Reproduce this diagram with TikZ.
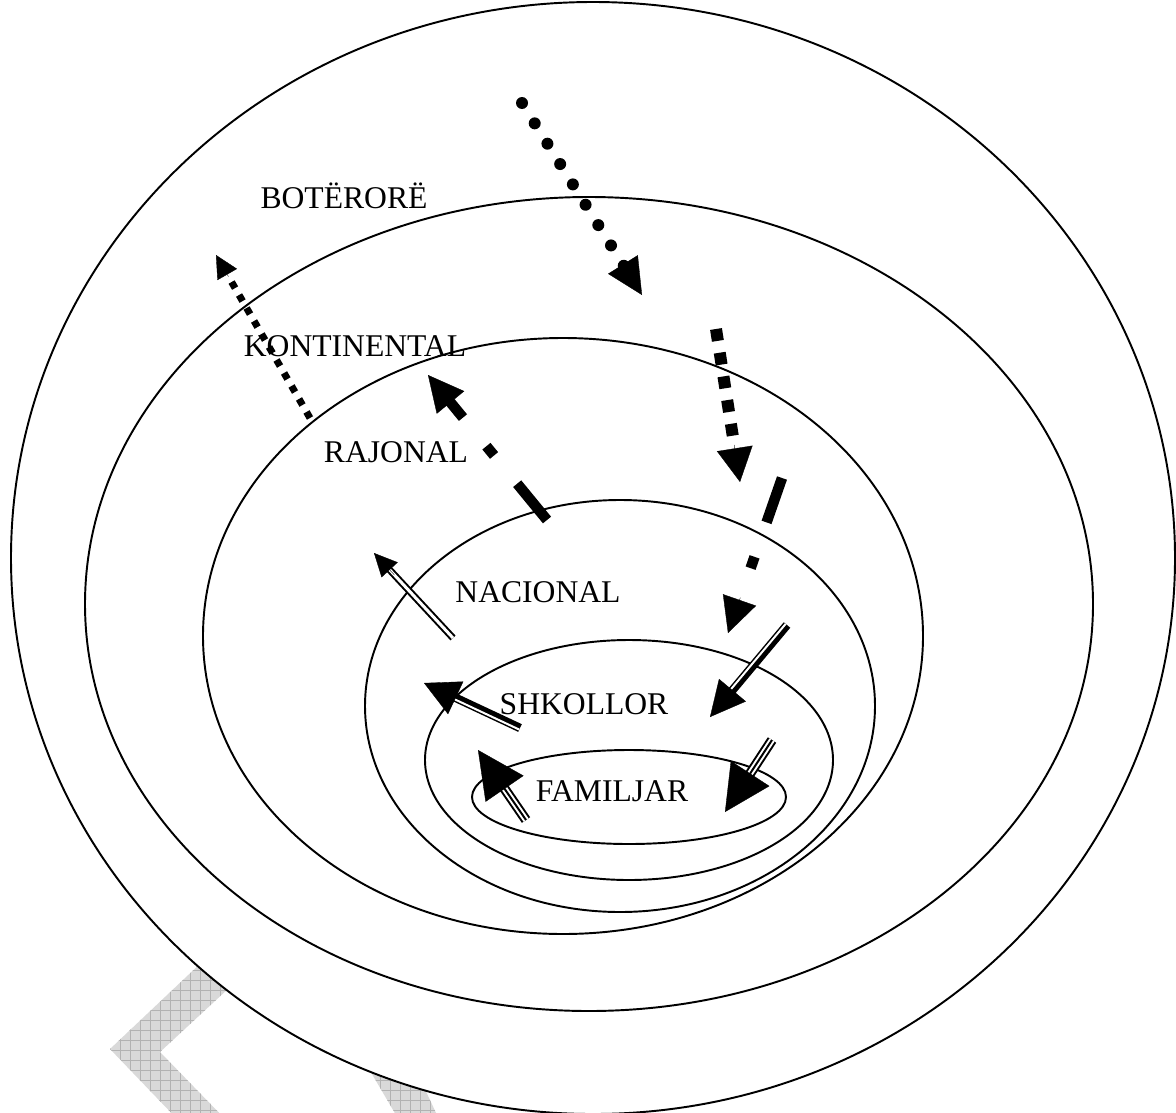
\documentclass[tikz,border=0pt]{standalone}
\usepackage{fontspec}
\setmainfont{Liberation Serif}
\usetikzlibrary{arrows.meta,calc}

\begin{document}
\begin{tikzpicture}[x=0.02cm, y=-0.02cm,
		ring/.style={draw=black, line width=1.1pt},
		lbl/.style={font=\fontsize{18}{20}\selectfont, inner sep=0pt, anchor=base},
		tiphead/.style 2 args={-{Triangle[length=#1,width=#2]}, line width=0.2pt},
		rounddots/.style={line width=0.24cm, line cap=round, dash pattern=on 0cm off 0.48cm},
		smallsquares/.style={line width=0.14cm, dash pattern=on 0.14cm off 0.16cm},
		bigsquares/.style={line width=0.24cm, dash pattern=on 0.24cm off 0.24cm},
		dashdot/.style={line width=0.21cm, dash pattern=on 0.94cm off 0.73cm on 0.24cm off 0.74cm},
		thinpair/.style={double=white, double distance=0.06cm, line width=0.04cm},
		thickbar/.style={line width=0.17cm},
		gapline/.style={white, line width=0.04cm},
		threeline/.style={line width=0.04cm, preaction={draw, line width=0.2cm}, preaction={draw=white, line width=0.12cm}}]
	\useasboundingbox (0,0) rectangle (1176,1112);
	% watermark
	\begin{scope}
		\clip (240,926) -- (110,1049) -- (180,1122) -- (228,1122) -- (160,1052) -- (270,950) -- cycle
			(352,1040) -- (396,1115) -- (437,1115) -- (402,1040) -- cycle;
		\fill[gray!30] (0,900) rectangle (600,1120);
		\draw[step=0.2cm, gray!60, line width=0.3pt] (0,1120) grid (600,900);
	\end{scope}
	% levels
	\filldraw[ring, fill=white] (593,558) ellipse [x radius=582, y radius=556];
	\draw[ring] (589,604) ellipse [x radius=504, y radius=407];
	\draw[ring] (563,636) ellipse [x radius=360, y radius=298];
	\draw[ring] (620,706) ellipse [x radius=255, y radius=206];
	\draw[ring] (629,760) ellipse [x radius=204, y radius=120];
	\draw[ring] (629,797) ellipse [x radius=157, y radius=47];
	\node[lbl] (boterore) at (344,208) {BOTËRORË};
	\node[lbl] (kontinental) at (355,356) {KONTINENTAL};
	\node[lbl] (rajonal) at (396,462) {RAJONAL};
	\node[lbl] (nacional) at (538,602) {NACIONAL};
	\node[lbl] (shkollor) at (584,714) {SHKOLLOR};
	\node[lbl] (familjar) at (612,801) {FAMILJAR};
	% arrows
	\coordinate (dotS) at (522,103);  \coordinate (dotT) at (642,295);
	\coordinate (sqaS) at (310,418);  \coordinate (sqaT) at (216,255);
	\coordinate (sqbS) at (716,329);  \coordinate (sqbT) at (740,482);
	\coordinate (ddaS) at (782,478);  \coordinate (ddaT) at (728,633);
	\coordinate (ddbS) at (547,520);  \coordinate (ddbT) at (428,375);
	\coordinate (naS) at (453,638);   \coordinate (naT) at (374,553);
	\coordinate (shaS) at (520,728);  \coordinate (shaT) at (424,683);
	\coordinate (shbS) at (787,625);  \coordinate (shbT) at (710,717);
	\coordinate (faaS) at (526,820);  \coordinate (faaT) at (478,750);
	\coordinate (fabS) at (772,740);  \coordinate (fabT) at (725,812);
	\coordinate (shaE) at ($(shaT)!0.6cm!(shaS)$);
	\coordinate (shbE) at ($(shbT)!0.6cm!(shbS)$);
	\draw[rounddots] (dotS) -- ($(dotS)!3.86cm!(dotT)$);
	\draw[tiphead={0.72cm}{0.7cm}] ($(dotT)!0.8cm!(dotS)$) -- (dotT);
	\draw[smallsquares] (sqaS) -- ($(sqaS)!3.2cm!(sqaT)$);
	\draw[tiphead={0.45cm}{0.45cm}] ($(sqaT)!0.5cm!(sqaS)$) -- (sqaT);
	\draw[bigsquares] (sqbS) -- ($(sqbS)!2.2cm!(sqbT)$);
	\draw[tiphead={0.68cm}{0.72cm}] ($(sqbT)!0.75cm!(sqbS)$) -- (sqbT);
	\draw[dashdot] (ddaS) -- ($(ddaS)!2.58cm!(ddaT)$);
	\draw[tiphead={0.7cm}{0.7cm}] ($(ddaT)!0.75cm!(ddaS)$) -- (ddaT);
	\draw[dashdot] (ddbS) -- ($(ddbS)!3.1cm!(ddbT)$);
	\draw[tiphead={0.71cm}{0.71cm}] ($(ddbT)!0.75cm!(ddbS)$) -- (ddbT);
	\draw[thinpair] (naS) -- ($(naT)!0.4cm!(naS)$);
	\draw[tiphead={0.46cm}{0.44cm}] ($(naT)!0.6cm!(naS)$) -- (naT);
	\draw[thickbar] (shaS) -- (shaE);
	\draw[gapline] ($(shaS)!0.035cm!90:(shaT)$) -- ($(shaE)!0.035cm!-90:(shaS)$);
	\draw[tiphead={0.7cm}{0.72cm}] ($(shaT)!0.8cm!(shaS)$) -- (shaT);
	\draw[thickbar] (shbS) -- (shbE);
	\draw[gapline] ($(shbS)!0.035cm!-90:(shbT)$) -- ($(shbE)!0.035cm!90:(shbS)$);
	\draw[tiphead={0.7cm}{0.7cm}] ($(shbT)!0.8cm!(shbS)$) -- (shbT);
	\draw[threeline] (faaS) -- ($(faaT)!0.8cm!(faaS)$);
	\draw[tiphead={0.94cm}{0.92cm}] ($(faaT)!1cm!(faaS)$) -- (faaT);
	\draw[threeline] (fabS) -- ($(fabT)!0.8cm!(fabS)$);
	\draw[tiphead={0.92cm}{0.92cm}] ($(fabT)!1cm!(fabS)$) -- (fabT);
\end{tikzpicture}
\end{document}
